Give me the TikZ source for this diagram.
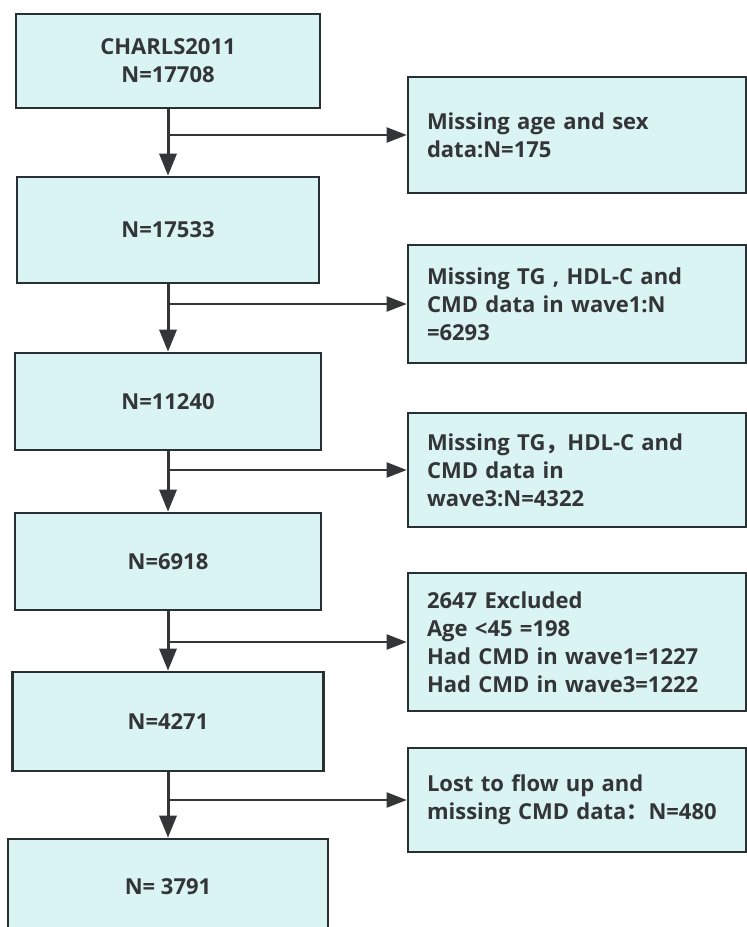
\documentclass[tikz,border=0pt]{standalone}
\usepackage{fontspec}
\setmainfont{Open Sans}
\newfontfamily\cjk{Noto Sans CJK SC}
\usetikzlibrary{arrows.meta}
\definecolor{boxfill}{RGB}{218,243,243}
\definecolor{boxline}{RGB}{40,48,52}
\definecolor{ink}{RGB}{51,53,55}

\begin{document}
\begin{tikzpicture}[x=1pt,y=-1pt,
    stage/.style={draw=boxline,line width=2.6pt,fill=boxfill,text=ink,align=center,inner sep=0pt,
      font=\bfseries\fontsize{22}{28}\selectfont},
    drop/.style={stage,align=left,text width=300pt,inner xsep=19pt},
    flow/.style={draw=ink,line width=3pt,-{Triangle[length=22pt,width=17pt]}},
    side/.style={draw=ink,line width=2pt,-{Triangle[length=20pt,width=15pt]}}]
    \clip (0,0) rectangle (747,927);
    % main column
    \node[stage,minimum width=304pt,minimum height=94pt] (n0) at (168,61) {CHARLS2011\\N=17708};
    \node[stage,minimum width=302pt,minimum height=106pt] (n1) at (168,230) {N=17533};
    \node[stage,minimum width=306pt,minimum height=97pt] (n2) at (168,401.5) {N=11240};
    \node[stage,minimum width=306pt,minimum height=97pt] (n3) at (168,561.5) {N=6918};
    \node[stage,minimum width=311pt,minimum height=99pt] (n4) at (168,721.5) {N=4271};
    \node[stage,minimum width=320pt,minimum height=96pt] (n5) at (168,887) {N= 3791};
    % exclusions
    \node[drop,minimum height=116pt] (x0) at (577,135) {Missing age and sex\\data:N=175};
    \node[drop,minimum height=118pt] (x1) at (577,304) {Missing TG , HDL-C and\\CMD data in wave1:N\\=6293};
    \node[drop,minimum height=114pt] (x2) at (577,470) {Missing TG{\cjk ，}HDL-C and\\CMD data in\\wave3:N=4322};
    \node[drop,minimum height=138pt] (x3) at (577,642) {2647 Excluded\\Age <45 =198\\Had CMD in wave1=1227\\Had CMD in wave3=1222};
    \node[drop,minimum height=104pt] (x4) at (577,800) {Lost to flow up and\\missing CMD data{\cjk ：}N=480};
    \foreach \a/\b/\x in {n0/n1/x0,n1/n2/x1,n2/n3/x2,n3/n4/x3,n4/n5/x4}{
      \draw[flow] (\a) -- (\b);
      \draw[side] (\a.south |- \x.west) -- (\x.west);
    }
\end{tikzpicture}
\end{document}
